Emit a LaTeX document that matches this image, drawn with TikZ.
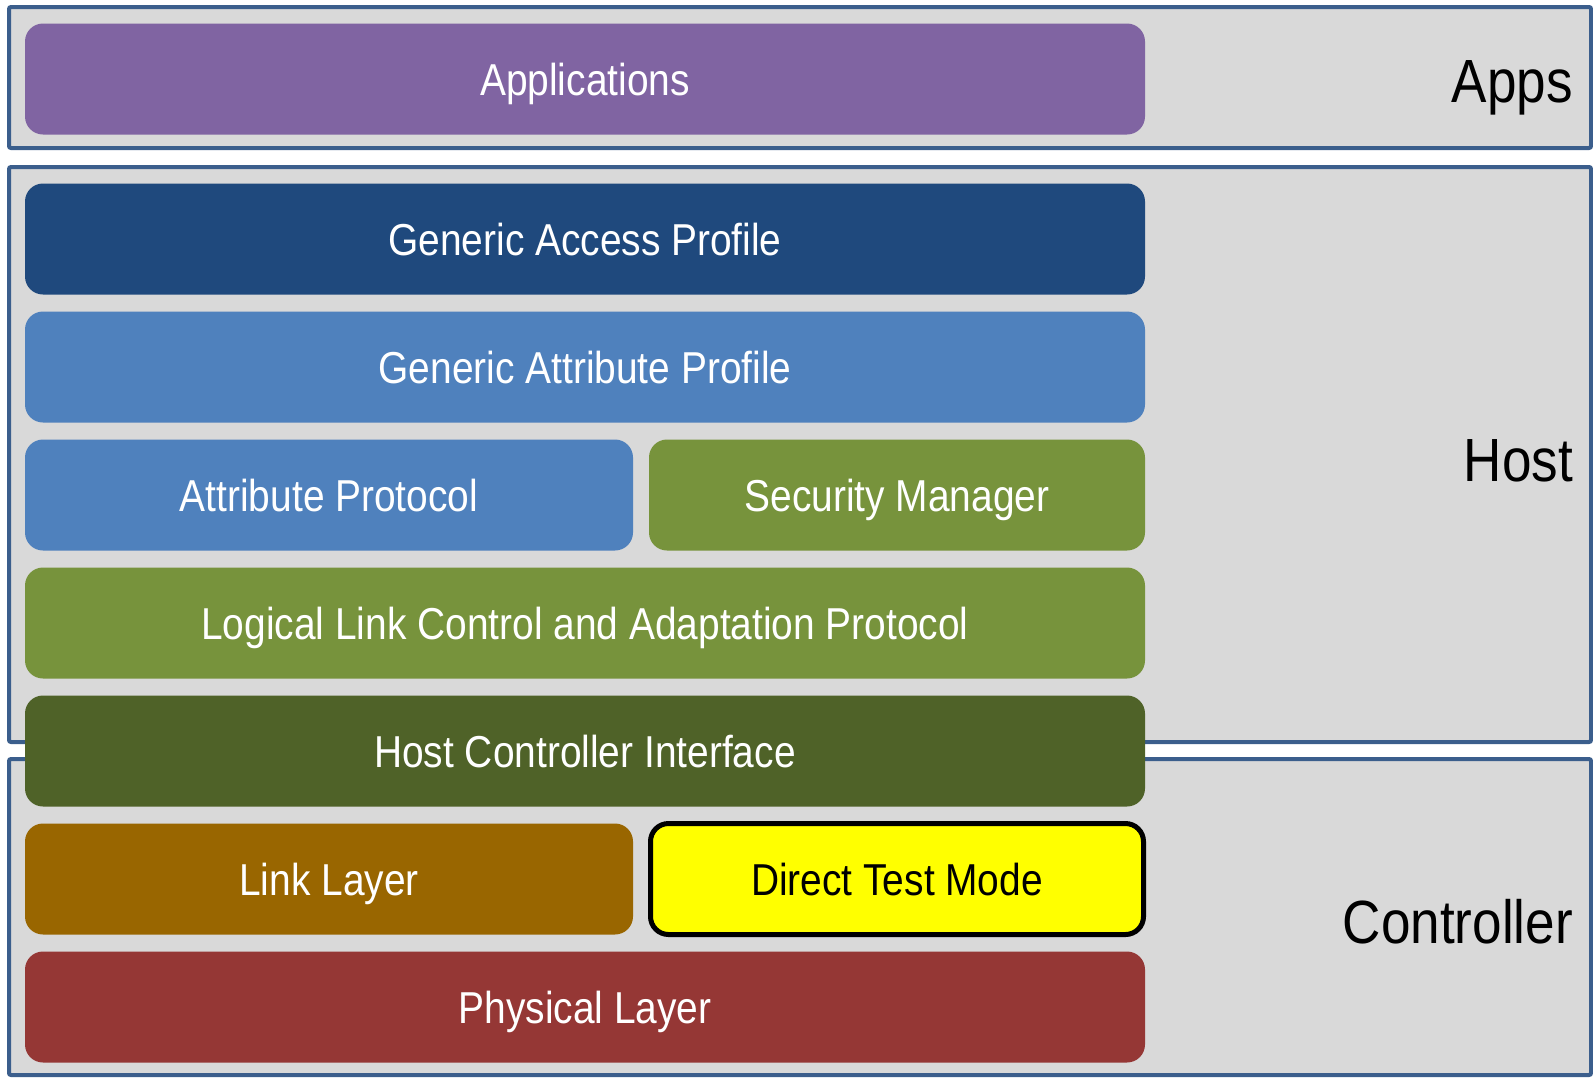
\documentclass[tikz,border=0pt]{standalone}
\usepackage{fontspec}
\setmainfont{Liberation Sans}[FakeStretch=0.87]
\definecolor{framefill}{HTML}{D9D9D9}
\definecolor{frameline}{HTML}{3B5E8C}
\definecolor{appcol}{HTML}{8064A2}
\definecolor{gapcol}{HTML}{1F497D}
\definecolor{attcol}{HTML}{4F81BD}
\definecolor{smcol}{HTML}{77933C}
\definecolor{hcicol}{HTML}{4F6228}
\definecolor{llcol}{HTML}{996600}
\definecolor{dtmcol}{HTML}{FFFF00}
\definecolor{phycol}{HTML}{953735}
\begin{document}
\begin{tikzpicture}[x=1pt,y=-1pt,
  frame/.style={draw=frameline,fill=framefill,line width=4pt,rounded corners=2pt},
  layer/.style={rounded corners=18pt,inner sep=0pt,outer sep=0pt,
    minimum height=111pt,text=white,text height=32pt,text depth=0pt,
    font=\fontsize{44.7}{50}\selectfont},
  wide/.style={layer,minimum width=1120pt},
  half/.style={layer,minimum width=608pt},
  halfr/.style={layer,minimum width=496pt},
  tier/.style={anchor=base east,inner sep=0pt,font=\fontsize{61}{66}\selectfont}]
\useasboundingbox[fill=white] (0,0) rectangle (1593,1077);
% enclosing tiers
\draw[frame] (9,7) rectangle (1591,148);
\draw[frame] (9,167) rectangle (1591,742);
\draw[frame] (9,759) rectangle (1591,1075);
% tier labels
\node[tier] (apps) at (1573,102) {Apps};
\node[tier] (host) at (1573,481) {Host};
\node[tier] (ctrl) at (1573,943) {Controller};
% protocol layers
\node[wide,fill=appcol] (app) at (585,79) {Applications};
\node[wide,fill=gapcol] (gap) at (585,239) {Generic Access Profile};
\node[wide,fill=attcol] (gatt) at (585,367) {Generic Attribute Profile};
\node[half,fill=attcol] (att) at (329,495) {Attribute Protocol};
\node[halfr,fill=smcol] (sm) at (897,495) {Security Manager};
\node[wide,fill=smcol] (l2cap) at (585,623) {Logical Link Control and Adaptation Protocol};
\node[wide,fill=hcicol] (hci) at (585,751) {Host Controller Interface};
\node[half,fill=llcol] (ll) at (329,879) {Link Layer};
\node[halfr,fill=dtmcol,draw=black,line width=5pt,text=black,minimum width=493pt,minimum height=111pt] (dtm) at (897,879) {Direct Test Mode};
\node[wide,fill=phycol] (phy) at (585,1007) {Physical Layer};
\end{tikzpicture}
\end{document}
